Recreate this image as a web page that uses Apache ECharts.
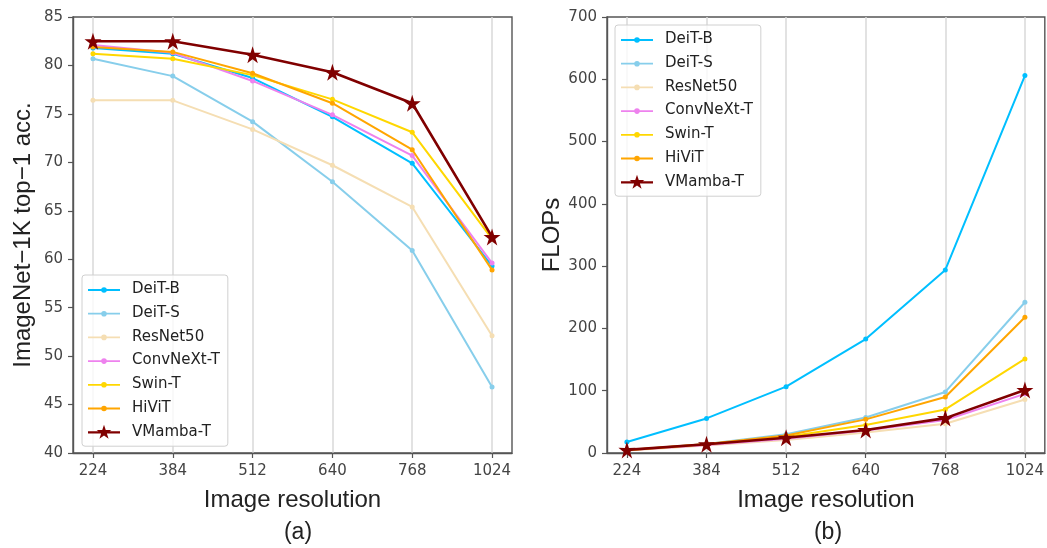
<!DOCTYPE html>
<html>
<head>
<meta charset="utf-8">
<script src="https://cdn.jsdelivr.net/npm/echarts@6/dist/echarts.min.js"></script>
<style>
  html, body { margin: 0; padding: 0; background: #fff; }
  #main { width: 1047px; height: 548px; }
</style>
</head>
<body>
<div id="main"></div>
<script>
// 分辨率（横轴类别）
var resolutions = ['224', '384', '512', '640', '768', '1024']
var models = ['DeiT-B', 'DeiT-S', 'ResNet50', 'ConvNeXt-T', 'Swin-T', 'HiViT', 'VMamba-T']
var colors = ['#00bfff', '#87ceeb', '#f5deb3', '#ee82ee', '#ffd700', '#ffa500', '#800000']

// (a) ImageNet-1K top-1 acc.
var accDeitB = [81.8, 81.2, 78.7, 74.7, 69.9, 59.3]
var accDeitS = [80.7, 78.9, 74.2, 68.0, 60.9, 46.8]
var accResNet = [76.4, 76.4, 73.4, 69.7, 65.4, 52.1]
var accConvNeXt = [82.1, 81.3, 78.4, 74.9, 70.7, 59.6]
var accSwin = [81.2, 80.7, 79.0, 76.5, 73.1, 62.1]
var accHiViT = [81.9, 81.4, 79.2, 76.1, 71.3, 58.9]
var accVMamba = [82.5, 82.5, 81.1, 79.3, 76.1, 62.3]

// (b) FLOPs
var flopsDeitB = [17.6, 55.5, 106.5, 183, 294, 606]
var flopsDeitS = [4.6, 14.3, 30, 57, 98, 242]
var flopsResNet = [4.1, 12, 21, 33, 47, 86]
var flopsConvNeXt = [4.5, 13, 23, 36, 53, 95]
var flopsSwin = [4.5, 14, 26, 45, 70, 151]
var flopsHiViT = [5, 14.5, 28, 54, 90, 218]
var flopsVMamba = [5, 14, 24.5, 37, 56, 101]

var accData = [accDeitB, accDeitS, accResNet, accConvNeXt, accSwin, accHiViT, accVMamba]
var flopsData = [flopsDeitB, flopsDeitS, flopsResNet, flopsConvNeXt, flopsSwin, flopsHiViT, flopsVMamba]

var starPath = 'path://M50 0 L61.2 34.6 L97.6 34.5 L68.1 55.9 L79.4 90.5 L50 69 L20.6 90.5 L31.9 55.9 L2.4 34.5 L38.8 34.6 Z'
// 图例图标：线 + 小圆点 / 线 + 星
var dotIcon = 'path://M0 0 M39 14 M0 6.6 L32 6.6 L32 8.4 L0 8.4 Z M13.2 7.5 A2.8 2.8 0 1 1 18.8 7.5 A2.8 2.8 0 1 1 13.2 7.5 Z'
var starIcon = 'path://M0 0 M39 14 M0 6.5 L32 6.5 L32 8.7 L0 8.7 Z ' +
    'M16 0 L17.74 5.36 L23.38 5.35 L18.81 8.66 L20.56 14 L16 10.7 L11.44 14 L13.19 8.66 L8.62 5.35 L14.26 5.36 Z'
var font = 'DejaVu Sans'
var titleFont = 'Liberation Sans'
var idx = [0, 1, 2, 3, 4, 5]

function pts(arr) {
    return arr.map(function (v, i) { return [i, v] })
}

function makeSeries(dataList, gi) {
    return dataList.map(function (arr, k) {
        var star = k === 6
        return {
            name: models[k],
            type: 'line',
            xAxisIndex: gi,
            yAxisIndex: gi,
            data: pts(arr),
            symbol: star ? starPath : 'circle',
            symbolSize: star ? 17 : 5,
            showSymbol: true,
            lineStyle: { color: colors[k], width: star ? 2.6 : 2 },
            itemStyle: { color: colors[k], borderWidth: 0 },
            emphasis: { disabled: true },
            z: 2 + k
        }
    })
}

function xAxisOpt(gi) {
    return {
        gridIndex: gi,
        type: 'value',
        min: -0.25,
        max: 5.25,
        name: 'Image resolution',
        nameLocation: 'middle',
        nameGap: 35,
        nameTextStyle: { fontFamily: titleFont, fontSize: 24, color: '#222' },
        axisLine: { show: true, onZero: false, lineStyle: { color: '#555', width: 1.4 } },
        axisTick: { show: true, customValues: idx, length: 5, lineStyle: { color: '#555', width: 1.2 } },
        axisLabel: {
            customValues: idx,
            margin: 11,
            fontFamily: font, fontSize: 15, color: '#444',
            formatter: function (v) { return resolutions[Math.round(v)] }
        },
        splitLine: { show: true, lineStyle: { color: '#d8d8d8', width: 1.5 } }
    }
}

function yAxisOpt(gi, min, max, interval, name, gap) {
    return {
        gridIndex: gi, type: 'value', min: min, max: max, interval: interval,
        name: name,
        nameLocation: 'middle', nameGap: gap,
        nameTextStyle: { fontFamily: titleFont, fontSize: 24, color: '#222' },
        axisLine: { show: true, onZero: false, lineStyle: { color: '#555', width: 1.4 } },
        axisTick: { show: true, length: 5, lineStyle: { color: '#555', width: 1.2 } },
        axisLabel: { margin: 10, fontFamily: font, fontSize: 15, color: '#444' },
        splitLine: { show: false }
    }
}

function legendOpt(left, top) {
    return {
        orient: 'vertical',
        left: left,
        top: top,
        data: models.map(function (m, k) {
            return { name: m, icon: k === 6 ? starIcon : dotIcon }
        }),
        itemWidth: 39,
        itemHeight: 14,
        itemGap: 8.7,
        padding: [7, 8, 7, 6],
        borderColor: '#d0d0d0',
        borderWidth: 1,
        borderRadius: 3,
        backgroundColor: 'rgba(255,255,255,0.8)',
        itemStyle: { borderWidth: 0 },
        textStyle: { fontFamily: font, fontSize: 15, color: '#222' },
        selectedMode: false
    }
}

var chart = echarts.init(document.getElementById('main'))
var option = {
    animation: false,
    backgroundColor: '#fff',
    grid: [
        { left: 73, top: 17, width: 439, height: 436, show: true, borderColor: '#555', borderWidth: 1.4 },
        { left: 607, top: 17, width: 438, height: 436, show: true, borderColor: '#555', borderWidth: 1.4 }
    ],
    legend: [legendOpt(82, 275), legendOpt(615, 25)],
    xAxis: [xAxisOpt(0), xAxisOpt(1)],
    yAxis: [
        yAxisOpt(0, 40, 85, 5, 'ImageNet\u22121K top\u22121 acc.', 38),
        yAxisOpt(1, 0, 700, 100, 'FLOPs', 43)
    ],
    graphic: [
        { type: 'text', x: 298, y: 533, style: { text: '(a)', font: '23px Liberation Sans', fill: '#222', align: 'center', verticalAlign: 'middle' } },
        { type: 'text', x: 828, y: 533, style: { text: '(b)', font: '23px Liberation Sans', fill: '#222', align: 'center', verticalAlign: 'middle' } }
    ],
    series: makeSeries(accData, 0).concat(makeSeries(flopsData, 1))
}
chart.setOption(option)
</script>
</body>
</html>
